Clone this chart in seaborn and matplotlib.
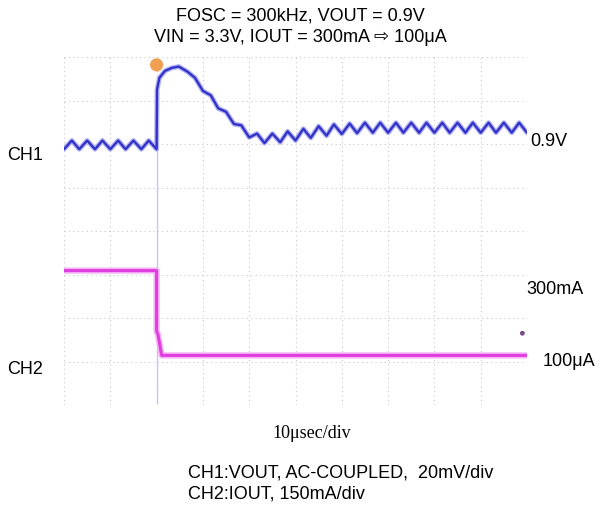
import matplotlib
matplotlib.use('Agg')
import matplotlib.pyplot as plt
import seaborn as sns

# scope traces, in screen divisions (10 x 8 grid)
# CH1: VOUT, AC-coupled
ch1_t = [0.00, 0.17, 0.33, 0.50, 0.67, 0.83, 1.00, 1.17, 1.33, 1.50, 1.67, 1.83, 2.00,
         2.01, 2.06, 2.18, 2.33, 2.48, 2.67, 2.83, 3.00, 3.17, 3.33, 3.50, 3.67, 3.83,
         4.00, 4.17, 4.33, 4.50, 4.67, 4.83, 5.00, 5.17, 5.33, 5.50, 5.67, 5.83, 6.00,
         6.17, 6.33, 6.50, 6.67, 6.83, 7.00, 7.17, 7.33, 7.50, 7.67, 7.83, 8.00, 8.17,
         8.33, 8.50, 8.67, 8.83, 9.00, 9.17, 9.33, 9.50, 9.67, 9.83, 10.00]
ch1_v = [5.88, 6.08, 5.88, 6.08, 5.88, 6.08, 5.88, 6.08, 5.88, 6.08, 5.88, 6.08, 5.88,
         7.25, 7.52, 7.68, 7.75, 7.78, 7.66, 7.52, 7.22, 7.12, 6.82, 6.74, 6.46, 6.43,
         6.15, 6.24, 6.02, 6.24, 6.04, 6.29, 6.08, 6.35, 6.14, 6.41, 6.19, 6.45, 6.23,
         6.47, 6.25, 6.49, 6.26, 6.49, 6.26, 6.49, 6.26, 6.49, 6.26, 6.49, 6.26, 6.49,
         6.26, 6.49, 6.26, 6.49, 6.26, 6.49, 6.26, 6.49, 6.26, 6.49, 6.26]

# CH2: IOUT step 300mA -> 100uA
ch2_t = [0.00, 2.00, 2.00, 2.03, 2.11, 10.00]
ch2_i = [3.09, 3.09, 1.70, 1.62, 1.14, 1.14]

# thin trace linking the step edge down to the bottom
edge_t = [2.00, 2.00]
edge_y = [0.05, 5.90]

trig_t, trig_y = [2.00], [7.82]
mark_t, mark_y = [9.90], [1.65]

title_1 = 'FOSC = 300kHz, VOUT = 0.9V'
title_2 = 'VIN = 3.3V, IOUT = 300mA \u21e8 100\u03bcA'

sns.set_style('white')
plt.rcParams['font.family'] = ['Liberation Sans', 'DejaVu Sans']
plt.rcParams['text.color'] = 'black'

fig = plt.figure(figsize=(6.03, 5.10), dpi=100)
ax = fig.add_axes([64/603, 1-406/510, 463/603, 348/510])

sns.lineplot(x=edge_t, y=edge_y, estimator=None, sort=False, color='#cfc3ee', lw=1.0, ax=ax)

# soft halo under each trace, like the scope capture
sns.lineplot(x=ch2_t, y=ch2_i, estimator=None, sort=False, color='#f5b3f5', lw=4.5, ax=ax)
sns.lineplot(x=ch2_t, y=ch2_i, estimator=None, sort=False, color='#e03fe0', lw=2.2, ax=ax)
sns.lineplot(x=ch1_t, y=ch1_v, estimator=None, sort=False, color='#b4b4f4', lw=3.6, ax=ax)
sns.lineplot(x=ch1_t, y=ch1_v, estimator=None, sort=False, color='#3232c8', lw=1.7, ax=ax)

sns.scatterplot(x=trig_t, y=trig_y, color='#f0a050', s=90, edgecolor='none', ax=ax, zorder=5)
sns.scatterplot(x=mark_t, y=mark_y, color='#7a4a8a', s=12, edgecolor='none', ax=ax, zorder=5)

ax.set_xlim(0, 10)
ax.set_ylim(0, 8)
ax.set_xticks(range(11))
ax.set_yticks(range(9))
ax.set_xticklabels([])
ax.set_yticklabels([])
ax.tick_params(length=0)
ax.set_xlabel('')
ax.set_ylabel('')
ax.grid(True, color='#c8c8c8', lw=0.8, linestyle=(0, (1, 3)))
ax.set_axisbelow(True)
for s in ax.spines.values():
    s.set_visible(False)

fs = 13
fig.text(300/603, 1-16/510, title_1, ha='center', va='center', fontsize=fs)
fig.text(300/603, 1-38/510, title_2, ha='center', va='center', fontsize=fs)

fig.text(7/603, 1-155/510, 'CH1', ha='left', va='center', fontsize=fs)
fig.text(7/603, 1-370/510, 'CH2', ha='left', va='center', fontsize=fs)
fig.text(530/603, 1-142/510, '0.9V', ha='left', va='center', fontsize=fs)
fig.text(526/603, 1-290/510, '300mA', ha='left', va='center', fontsize=fs)
fig.text(543/603, 1-362/510, '100\u03bcA', ha='left', va='center', fontsize=fs)

fig.text(312/603, 1-434/510, '10\u03bcsec/div', ha='center', va='center', fontsize=fs,
         family=['Liberation Serif', 'DejaVu Serif'])
fig.text(188/603, 1-473/510, 'CH1:VOUT, AC-COUPLED,  20mV/div', ha='left', va='center', fontsize=fs)
fig.text(188/603, 1-494/510, 'CH2:IOUT, 150mA/div', ha='left', va='center', fontsize=fs)

fig.savefig('out.png', dpi=100)
